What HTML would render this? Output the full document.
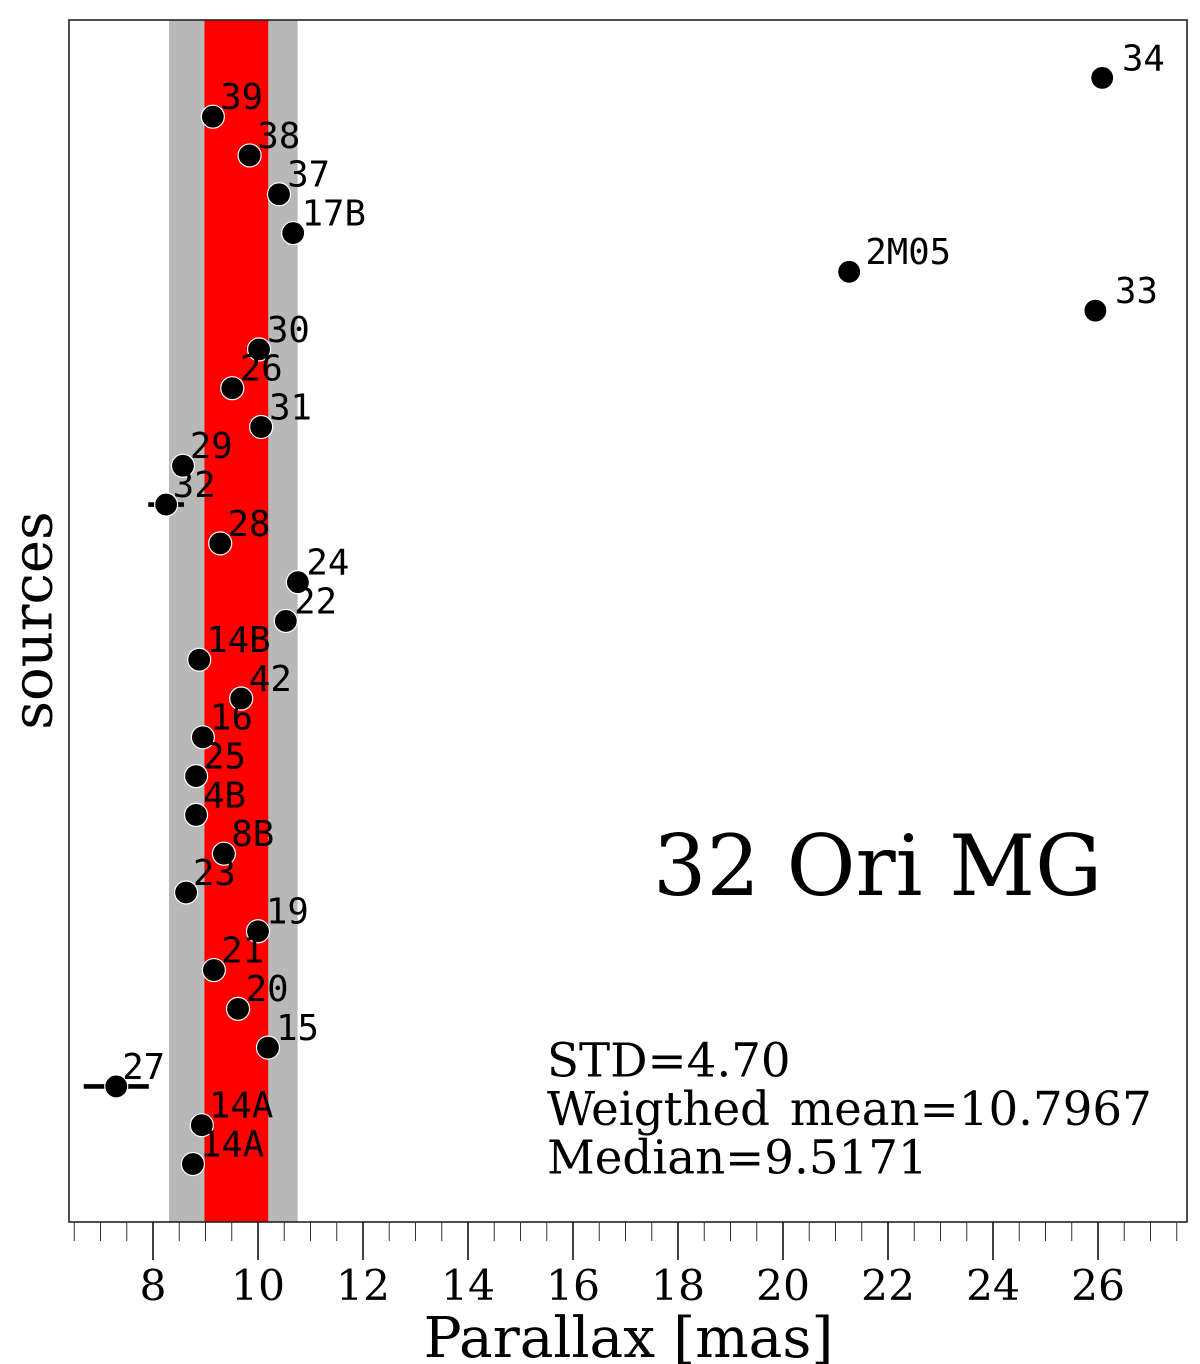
<!DOCTYPE html>
<html>
<head>
<meta charset="utf-8">
<title>32 Ori MG parallax</title>
<style>
html,body{margin:0;padding:0;background:#fff;width:1200px;height:1364px;overflow:hidden}
svg{display:block}
text{fill:#000}
.serif{font-family:"DejaVu Serif","Liberation Serif",serif}
.mono{font-family:"DejaVu Sans Mono","Liberation Mono",monospace}
</style>
</head>
<body>
<svg id="chart" xmlns="http://www.w3.org/2000/svg" width="1200" height="1364" viewBox="0 0 1200 1364"></svg>
<script>
// Data arrays
const sourceLabels = ["14A","14A","27","15","20","21","19","23","8B","4B","25","16","42","14B","22","24","28","32","29","31","26","30","33","2M05","17B","37","38","39","34"];
const parallaxValues = [8.76,8.93,7.30,10.19,9.62,9.16,10.00,8.63,9.35,8.82,8.82,8.95,9.68,8.88,10.53,10.76,9.28,8.25,8.57,10.06,9.51,10.02,25.95,21.26,10.67,10.40,9.84,9.14,26.08];
const parallaxErrors = [0.05,0.05,0.62,0.05,0.05,0.05,0.05,0.05,0.05,0.05,0.05,0.05,0.05,0.05,0.05,0.05,0.05,0.34,0.05,0.05,0.05,0.05,0.05,0.05,0.05,0.05,0.05,0.05,0.05];
const majorTickValues = [8,10,12,14,16,18,20,22,24,26];
const minorTickValues = [6.5,7,7.5,8.5,9,9.5,10.5,11,11.5,12.5,13,13.5,14.5,15,15.5,16.5,17,17.5,18.5,19,19.5,20.5,21,21.5,22.5,23,23.5,24.5,25,25.5,26.5,27,27.5];
const outerBandRange = [8.305,10.755];
const innerBandRange = [8.98,10.195];
const statsLines = ["STD=4.70","Weigthed mean=10.7967","Median=9.5171"];

const svg = document.getElementById('chart');
const NS = 'http://www.w3.org/2000/svg';
const plotLeft = 69, plotRight = 1187, plotTop = 20, plotBottom = 1222;
function xScale(v){ return 153 + (v - 8) * 52.5; }
function yScale(i){ return 1164 - i * 38.79; }
function make(tag, attrs, text){
  const el = document.createElementNS(NS, tag);
  for (const k in attrs) el.setAttribute(k, attrs[k]);
  if (text !== undefined) el.textContent = text;
  svg.appendChild(el);
  return el;
}
let el;

// Bands
el = make('rect',{x:xScale(outerBandRange[0]),y:plotTop,width:xScale(outerBandRange[1])-xScale(outerBandRange[0]),height:plotBottom-plotTop,fill:'#b8b8b8'});


el = make('rect',{x:xScale(innerBandRange[0]),y:plotTop,width:xScale(innerBandRange[1])-xScale(innerBandRange[0]),height:plotBottom-plotTop,fill:'#ff0000'});



// Error bars
parallaxValues.forEach(function(v,i){
  const e = make('line',{x1:xScale(v-parallaxErrors[i]),x2:xScale(v+parallaxErrors[i]),y1:yScale(i),y2:yScale(i),stroke:'#000','stroke-width':4.6});
  
  
});
// Points
parallaxValues.forEach(function(v,i){
  const p = make('circle',{cx:xScale(v),cy:yScale(i),r:11.5,fill:'#000',stroke:'#fff','stroke-width':1.2});
  
  
});
// Point labels
parallaxValues.forEach(function(v,i){
  const t = make('text',{x:xScale(v*1.014)+0.6,y:yScale(i)-7.6,'font-size':35.6,'class':'mono'},sourceLabels[i]);
  
  
});

// Frame
el = make('rect',{x:plotLeft,y:plotTop,width:plotRight-plotLeft,height:plotBottom-plotTop,fill:'none',stroke:'#222','stroke-width':1.6});



// Ticks
minorTickValues.forEach(function(v){
  const t = make('line',{x1:xScale(v),x2:xScale(v),y1:plotBottom,y2:1241,stroke:'#333','stroke-width':1});
  
  
});
majorTickValues.forEach(function(v){
  const t = make('line',{x1:xScale(v),x2:xScale(v),y1:plotBottom,y2:1260,stroke:'#111','stroke-width':1.6});
  
  
  const l = make('text',{x:xScale(v),y:1300,'font-size':42.5,'text-anchor':'middle','class':'serif'},String(v));
  
  
});

// Axis titles
el = make('text',{x:628.5,y:1357,'font-size':56.5,'text-anchor':'middle','class':'serif'},'Parallax [mas]');


el = make('text',{x:0,y:0,'font-size':56,'text-anchor':'middle','class':'serif',transform:'translate(51.5 620.5) rotate(-90)'},'sources');



// Annotations
el = make('text',{x:653,y:895,'font-size':84,'class':'serif'},'32 Ori MG');


statsLines.forEach(function(s,i){
  const t = make('text',{x:547,y:1076.5+i*48.5,'font-size':46.7,'word-spacing':5,'class':'serif'},s);
  
  
});
</script>
</body>
</html>
